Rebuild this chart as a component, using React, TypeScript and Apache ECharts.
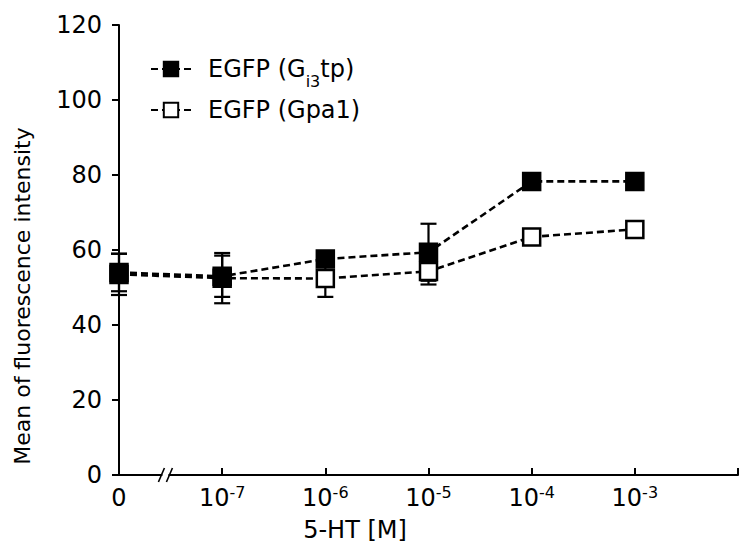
import React, { useEffect, useRef } from "react";
import * as echarts from "echarts";

// x categories: exponent of 5-HT concentration ("0" = no 5-HT); last blank slot extends the axis
const xCategories = ["0", "-7", "-6", "-5", "-4", "-3", ""];
const seriesNames = ["EGFP (Gi3tp)", "EGFP (Gpa1)"];
// mean fluorescence intensity
const gi3tpMean = [54, 53, 57.6, 59.4, 78.3, 78.3];
const gpa1Mean = [53.5, 52.5, 52.4, 54.3, 63.5, 65.5];
// error (± SD)
const gi3tpErr = [5, 5.5, 1, 7.6, 1, 1];
const gpa1Err = [5.5, 6.7, 4.9, 3.5, 1, 1];
// y tick range
const yMin = 0;
const yMax = 120;
const yStep = 20;

const FONT = "DejaVu Sans";
const FS = 24;

export default function App() {
  const ref = useRef<HTMLDivElement>(null);
  useEffect(() => {
    if (!ref.current) return;
    const chart = echarts.init(ref.current, undefined, { renderer: "svg" });

    const errData = (means: number[], errs: number[]) =>
      means.map((m, i) => [i, m - errs[i], m + errs[i]]);

    const errSeries = (name: string, means: number[], errs: number[]) => ({
      type: "custom",
      name: name + " err",
      z: 1,
      silent: true,
      renderItem: (params: any, api: any) => {
        const x = api.value(0);
        const lo = api.coord([x, api.value(1)]);
        const hi = api.coord([x, api.value(2)]);
        const hw = 8;
        const style = { stroke: "#000", lineWidth: 2.2 };
        return {
          type: "group",
          children: [
            { type: "line", shape: { x1: lo[0], y1: lo[1], x2: hi[0], y2: hi[1] }, style },
            { type: "line", shape: { x1: lo[0] - hw, y1: lo[1], x2: lo[0] + hw, y2: lo[1] }, style },
            { type: "line", shape: { x1: hi[0] - hw, y1: hi[1], x2: hi[0] + hw, y2: hi[1] }, style },
          ],
        };
      },
      data: errData(means, errs),
    });

    const legendFormatter = (name: string) =>
      name === seriesNames[0] ? "{t|EGFP (G}{sub|i3}{t|tp)}" : "{t|EGFP (Gpa1)}";

    chart.setOption({
      animation: false,
      grid: { left: 119, top: 25, width: 624, height: 450, containLabel: false },
      legend: {
        data: seriesNames,
        orient: "vertical",
        left: 145,
        top: 52,
        itemWidth: 40,
        itemHeight: 18,
        itemGap: 9,
        formatter: legendFormatter,
        textStyle: {
          padding: [0, 0, 0, 12],
          rich: {
            t: { fontFamily: FONT, fontSize: FS, color: "#000", lineHeight: 26 },
            sub: { fontFamily: FONT, fontSize: 16, color: "#000", verticalAlign: "bottom", lineHeight: 16, padding: [0, 0, -7, 0] },
          },
        },
      },
      xAxis: {
        type: "category",
        data: xCategories,
        boundaryGap: false,
        axisLine: { lineStyle: { color: "#000", width: 2 } },
        axisTick: { inside: true, length: 7, lineStyle: { color: "#000", width: 2 }, interval: 0 },
        axisLabel: {
          interval: 0,
          margin: 9,
          formatter: (v: string) => (v === "" ? "" : v === "0" ? "{n|0}" : "{n|10}{s|" + v + "}"),
          rich: {
            n: { fontFamily: FONT, fontSize: FS, color: "#000", lineHeight: 28 },
            s: { fontFamily: FONT, fontSize: 16, color: "#000", verticalAlign: "top", lineHeight: 16 },
          },
        },
        splitLine: { show: false },
      },
      yAxis: {
        type: "value",
        min: yMin,
        max: yMax,
        interval: yStep,
        axisLine: { show: true, lineStyle: { color: "#000", width: 2 } },
        axisTick: { show: true, length: 7, lineStyle: { color: "#000", width: 2 } },
        axisLabel: { fontFamily: FONT, fontSize: FS, color: "#000", margin: 17 },
        splitLine: { show: false },
      },
      graphic: [
        {
          type: "text",
          x: 355,
          y: 530,
          style: { text: "5-HT [M]", fontFamily: FONT, fontSize: FS, fill: "#000", textAlign: "center", textVerticalAlign: "middle" },
        },
        {
          type: "text",
          x: 22,
          y: 296,
          rotation: Math.PI / 2,
          style: { text: "Mean of fluorescence intensity", fontFamily: FONT, fontSize: 22, fill: "#000", textAlign: "center", textVerticalAlign: "middle" },
        },
      ],
      series: [
        errSeries(seriesNames[1], gpa1Mean, gpa1Err),
        errSeries(seriesNames[0], gi3tpMean, gi3tpErr),
        {
          type: "line",
          name: seriesNames[1],
          data: gpa1Mean,
          z: 3,
          symbol: "rect",
          symbolSize: 17,
          lineStyle: { color: "#000", width: 2.6, type: [7, 4] },
          itemStyle: { color: "#fff", borderColor: "#000", borderWidth: 2.5 },
        },
        {
          type: "line",
          name: seriesNames[0],
          data: gi3tpMean,
          z: 4,
          symbol: "rect",
          symbolSize: 18,
          lineStyle: { color: "#000", width: 2.6, type: [7, 4] },
          itemStyle: { color: "#000", borderColor: "#000", borderWidth: 1.5 },
        },
      ],
    });

    // axis break mark "//" between 0 and 10^-7
    const p0 = chart.convertToPixel({ xAxisIndex: 0, yAxisIndex: 0 } as any, [0, 0]) as number[];
    const p1 = chart.convertToPixel({ xAxisIndex: 0, yAxisIndex: 0 } as any, [1, 0]) as number[];
    if (p0 && p1) {
      const bx = p0[0] + (p1[0] - p0[0]) * 0.45;
      const by = p0[1];
      chart.setOption({
        graphic: [
          { type: "rect", id: "brkgap", z: 100, shape: { x: bx - 3, y: by - 3, width: 6, height: 6 }, style: { fill: "#fff" } },
          { type: "line", id: "brk1", z: 101, shape: { x1: bx - 7, y1: by + 7, x2: bx - 1, y2: by - 7 }, style: { stroke: "#000", lineWidth: 1.6 } },
          { type: "line", id: "brk2", z: 101, shape: { x1: bx + 1, y1: by + 7, x2: bx + 7, y2: by - 7 }, style: { stroke: "#000", lineWidth: 1.6 } },
        ],
      });
    }

    return () => chart.dispose();
  }, []);
  return <div ref={ref} style={{ width: 741, height: 550, position: "absolute", left: 0, top: 0 }} />;
}
